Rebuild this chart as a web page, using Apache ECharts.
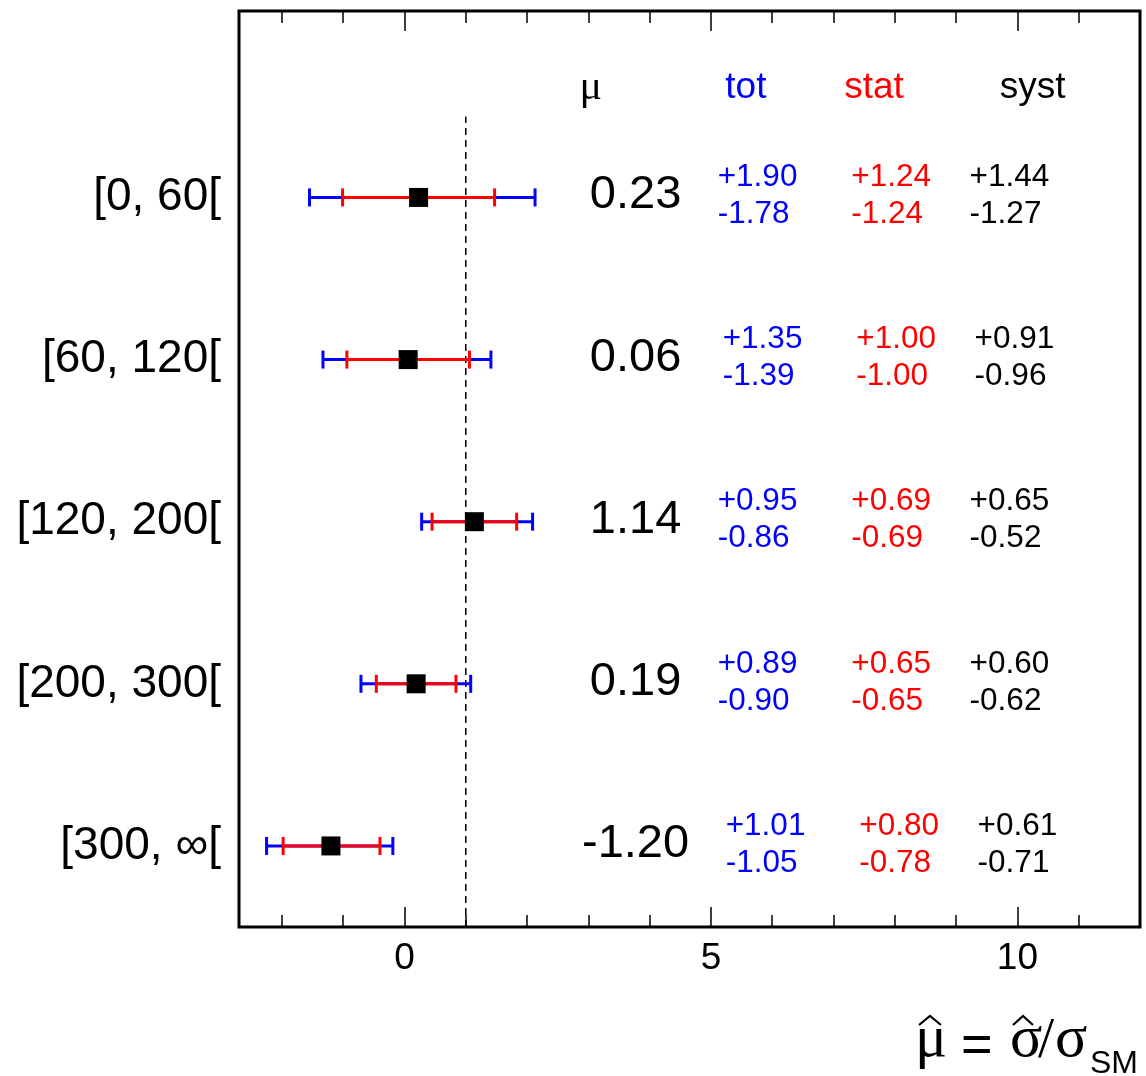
<!DOCTYPE html>
<html>
<head>
<meta charset="utf-8">
<script src="https://cdn.jsdelivr.net/npm/echarts@6/dist/echarts.min.js"></script>
<style>
  html, body { margin: 0; padding: 0; background: #fff; }
  #chart { width: 1146px; height: 1076px; }
</style>
</head>
<body>
<div id="chart"></div>
<script>
// pT bins (GeV) and the fitted signal strength with its uncertainties
const BINS = ['[0, 60[', '[60, 120[', '[120, 200[', '[200, 300[', '[300, \u221e['];
const MU = [0.23, 0.06, 1.14, 0.19, -1.20];
const TOT_UP = [1.90, 1.35, 0.95, 0.89, 1.01];
const TOT_DN = [1.78, 1.39, 0.86, 0.90, 1.05];
const STAT_UP = [1.24, 1.00, 0.69, 0.65, 0.80];
const STAT_DN = [1.24, 1.00, 0.69, 0.65, 0.78];
const SYST_UP = [1.44, 0.91, 0.65, 0.60, 0.61];
const SYST_DN = [1.27, 0.96, 0.52, 0.62, 0.71];
const SM_VALUE = 1;
const X_MAJOR = [0, 5, 10];
const X_MINOR = [-2, -1, 0, 1, 2, 3, 4, 5, 6, 7, 8, 9, 10, 11];
const X_LABELS = [0, 5, 10];

// layout (data-space columns for the text table, small per-row nudges in px)
const X_MIN = -2.7, X_MAX = 12, Y_MIN = 0, Y_MAX = 5.65;
const COL_MU = 3.77, COL_TOT = 5.11, COL_STAT = 7.29, COL_SYST = 9.22;
const HEAD_Y = 5.18;
const ROW_NUDGE = [0, 5, 0, 0, 8];

const BLUE = '#0000ff', RED = '#ff0000', BLACK = '#000000';
const SANS = '"Liberation Sans", Arial, Helvetica, sans-serif';
const SERIF = '"Liberation Serif", "Times New Roman", serif';

const nRows = BINS.length;
const rowPos = i => nRows - 0.5 - i;
const fmt = (v, sign) => sign + v.toFixed(2);

const chart = echarts.init(document.getElementById('chart'), null, { renderer: 'canvas' });

function xAxisCfg(position, ticks, len, withLabels) {
  return {
    type: 'value', position: position, min: X_MIN, max: X_MAX,
    axisLine: { show: false },
    splitLine: { show: false },
    axisTick: { show: true, inside: true, length: len, customValues: ticks,
                lineStyle: { color: BLACK, width: 1.5 } },
    axisLabel: withLabels
      ? { show: true, customValues: X_LABELS, fontSize: 37, fontFamily: SANS, color: BLACK, margin: 13 }
      : { show: false }
  };
}

function renderRow(params, api) {
  const i = api.value(2);
  const y = rowPos(i);
  const mu = MU[i];
  const capH = 18, lw = 3;
  const tL = api.coord([mu - TOT_DN[i], y]);
  const tR = api.coord([mu + TOT_UP[i], y]);
  const sL = api.coord([mu - STAT_DN[i], y]);
  const sR = api.coord([mu + STAT_UP[i], y]);
  const c = api.coord([mu, y]);
  const seg = (x1, y1, x2, y2, col) => ({
    type: 'line', shape: { x1: x1, y1: y1, x2: x2, y2: y2 },
    style: { stroke: col, lineWidth: lw }
  });
  const children = [
    seg(tL[0], tL[1], tR[0], tR[1], BLUE),
    seg(tL[0], tL[1] - capH / 2, tL[0], tL[1] + capH / 2, BLUE),
    seg(tR[0], tR[1] - capH / 2, tR[0], tR[1] + capH / 2, BLUE),
    seg(sL[0], sL[1], sR[0], sR[1], RED),
    seg(sL[0], sL[1] - capH / 2, sL[0], sL[1] + capH / 2, RED),
    seg(sR[0], sR[1] - capH / 2, sR[0], sR[1] + capH / 2, RED),
    { type: 'rect', shape: { x: c[0] - 9.5, y: c[1] - 9.5, width: 19, height: 19 },
      style: { fill: BLACK } }
  ];
  // value table to the right of the bars
  const muPos = api.coord([COL_MU, y]);
  children.push({ type: 'text', x: muPos[0], y: muPos[1] - 2,
    style: { text: mu.toFixed(2), fill: BLACK, font: '47px ' + SANS, align: 'center', verticalAlign: 'middle' } });
  const cols = [
    [COL_TOT, TOT_UP[i], TOT_DN[i], BLUE],
    [COL_STAT, STAT_UP[i], STAT_DN[i], RED],
    [COL_SYST, SYST_UP[i], SYST_DN[i], BLACK]
  ];
  cols.forEach(function (col) {
    const p = api.coord([col[0], y]);
    const x = p[0] + ROW_NUDGE[i];
    children.push({ type: 'text', x: x, y: p[1] - 20,
      style: { text: fmt(col[1], '+'), fill: col[3], font: '31.5px ' + SANS, align: 'left', verticalAlign: 'middle' } });
    children.push({ type: 'text', x: x, y: p[1] + 17,
      style: { text: fmt(col[2], '-'), fill: col[3], font: '31.5px ' + SANS, align: 'left', verticalAlign: 'middle' } });
  });
  return { type: 'group', children: children };
}

function renderHeader(params, api) {
  const items = [
    [3.04, '\u03bc', BLACK, '42px ' + SERIF],
    [5.57, 'tot', BLUE, '37px ' + SANS],
    [7.66, 'stat', RED, '37px ' + SANS],
    [10.25, 'syst', BLACK, '37px ' + SANS]
  ];
  return { type: 'group', children: items.map(function (it) {
    const p = api.coord([it[0], HEAD_Y]);
    return { type: 'text', x: p[0], y: p[1] + 1,
      style: { text: it[1], fill: it[2], font: it[3], align: 'center', verticalAlign: 'middle' } };
  }) };
}

const option = {
  animation: false,
  backgroundColor: '#ffffff',
  grid: { left: 239, right: 6, top: 11, bottom: 149, show: true,
          borderColor: BLACK, borderWidth: 3, backgroundColor: 'transparent' },
  xAxis: [
    xAxisCfg('bottom', X_MAJOR, 20, true),
    xAxisCfg('bottom', X_MINOR, 12, false),
    xAxisCfg('top', X_MAJOR, 20, false),
    xAxisCfg('top', X_MINOR, 12, false)
  ],
  yAxis: {
    type: 'value', min: Y_MIN, max: Y_MAX, interval: 0.5,
    axisLine: { show: false }, axisTick: { show: false }, splitLine: { show: false },
    axisLabel: {
      margin: 18, fontSize: 46, fontFamily: SANS, color: BLACK,
      formatter: function (v) {
        const k = Math.round(v * 2);
        if (k % 2 !== 1) return '';
        const idx = nRows - 1 - (k - 1) / 2;
        return idx >= 0 && idx < nRows ? BINS[idx] : '';
      }
    }
  },
  series: [
    {
      type: 'line', xAxisIndex: 0, symbol: 'none', silent: true,
      lineStyle: { color: BLACK, width: 1.5, type: [7, 5] },
      data: [[SM_VALUE, 0], [SM_VALUE, nRows]], z: 1
    },
    {
      type: 'custom', xAxisIndex: 0, renderItem: renderRow, z: 3,
      data: MU.map((m, i) => [m, rowPos(i), i])
    },
    {
      type: 'custom', xAxisIndex: 0, renderItem: renderHeader, z: 3,
      data: [[COL_MU, HEAD_Y, 0]]
    }
  ],
  graphic: [
    // axis title: mu-hat = sigma-hat / sigma_SM
    { type: 'text', x: 915, y: 1040, style: { text: '\u03bc', font: '60px ' + SERIF, fill: BLACK, verticalAlign: 'middle' } },
    { type: 'polyline', shape: { points: [[919, 1025], [930, 1016], [941, 1025]] }, style: { stroke: BLACK, lineWidth: 2.2, fill: null } },
    { type: 'text', x: 961, y: 1047, style: { text: '=', font: '54px ' + SANS, fill: BLACK, verticalAlign: 'middle' } },
    { type: 'text', x: 1010, y: 1040, style: { text: '\u03c3', font: '60px ' + SERIF, fill: BLACK, verticalAlign: 'middle' } },
    { type: 'polyline', shape: { points: [[1013, 1025], [1023, 1016], [1033, 1025]] }, style: { stroke: BLACK, lineWidth: 2.2, fill: null } },
    { type: 'text', x: 1038, y: 1042, style: { text: '/', font: '58px ' + SERIF, fill: BLACK, verticalAlign: 'middle' } },
    { type: 'text', x: 1055, y: 1040, style: { text: '\u03c3', font: '60px ' + SERIF, fill: BLACK, verticalAlign: 'middle' } },
    { type: 'text', x: 1090, y: 1064, style: { text: 'SM', font: '32px ' + SANS, fill: BLACK, verticalAlign: 'middle' } }
  ]
};

chart.setOption(option);
</script>
</body>
</html>
